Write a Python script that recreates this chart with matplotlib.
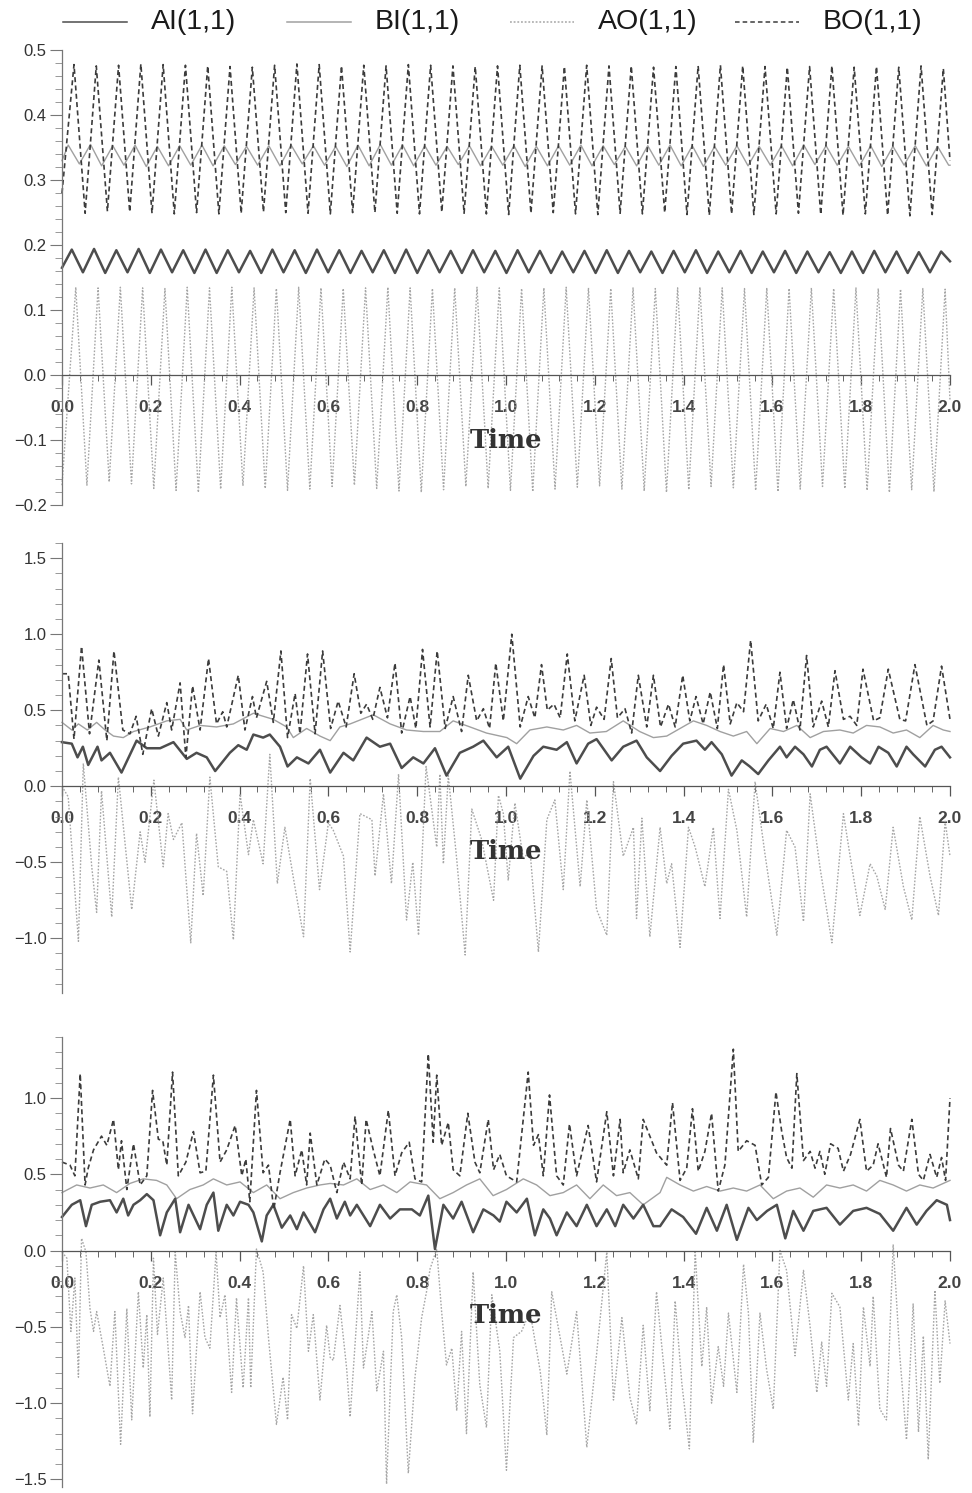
import numpy as np
import matplotlib
matplotlib.use("Agg")
import matplotlib.pyplot as plt
from matplotlib.ticker import MultipleLocator
from matplotlib.lines import Line2D

plt.rcParams['font.family'] = ['Liberation Sans', 'DejaVu Sans']

# ---------------- panel 1: regular oscillation, peak / trough values ----------------
p1_ai_peaks = [0.193, 0.194, 0.192, 0.194, 0.193, 0.192, 0.193, 0.192, 0.191, 0.193,
               0.192, 0.193, 0.192, 0.191, 0.192, 0.193, 0.192, 0.191, 0.192, 0.191,
               0.192, 0.191, 0.190, 0.191, 0.192, 0.191, 0.190, 0.191, 0.192, 0.190,
               0.191, 0.190, 0.191, 0.190, 0.189, 0.190, 0.191, 0.190, 0.189, 0.190]
p1_ai_troughs = [0.158, 0.157, 0.158, 0.157, 0.158, 0.157, 0.157, 0.158, 0.157, 0.158,
                 0.157, 0.158, 0.157, 0.158, 0.157, 0.157, 0.158, 0.157, 0.158, 0.157,
                 0.158, 0.157, 0.158, 0.157, 0.157, 0.158, 0.157, 0.158, 0.157, 0.158,
                 0.157, 0.158, 0.157, 0.158, 0.157, 0.157, 0.158, 0.157, 0.158]
p1_bi_peaks = [0.354, 0.355, 0.353, 0.354, 0.352, 0.353, 0.354, 0.353, 0.352, 0.353,
               0.354, 0.353, 0.352, 0.354, 0.355, 0.354, 0.353, 0.352, 0.353, 0.352,
               0.353, 0.352, 0.353, 0.354, 0.353, 0.352, 0.353, 0.354, 0.353, 0.352,
               0.353, 0.352, 0.353, 0.354, 0.353, 0.352, 0.353, 0.352, 0.353, 0.352]
p1_bi_troughs = [0.325, 0.322, 0.323, 0.321, 0.322, 0.323, 0.322, 0.324, 0.323, 0.322,
                 0.325, 0.323, 0.321, 0.322, 0.323, 0.322, 0.323, 0.324, 0.322, 0.323,
                 0.321, 0.322, 0.323, 0.322, 0.324, 0.322, 0.323, 0.322, 0.321, 0.323,
                 0.322, 0.323, 0.322, 0.324, 0.323, 0.322, 0.321, 0.323, 0.322, 0.323]
p1_ao_peaks = [0.135, 0.134, 0.135, 0.134, 0.133, 0.135, 0.134, 0.135, 0.134, 0.133,
               0.135, 0.134, 0.133, 0.134, 0.135, 0.134, 0.133, 0.134, 0.135, 0.134,
               0.133, 0.134, 0.135, 0.134, 0.133, 0.134, 0.133, 0.134, 0.135, 0.134,
               0.133, 0.134, 0.133, 0.134, 0.133, 0.134, 0.133, 0.132, 0.133, 0.132]
p1_ao_troughs = [-0.170, -0.165, -0.168, -0.175, -0.178, -0.181, -0.176, -0.171, -0.175, -0.178,
                 -0.176, -0.172, -0.170, -0.175, -0.179, -0.181, -0.177, -0.172, -0.175, -0.178,
                 -0.180, -0.176, -0.173, -0.171, -0.176, -0.179, -0.181, -0.177, -0.172, -0.174,
                 -0.178, -0.180, -0.176, -0.172, -0.175, -0.178, -0.181, -0.177, -0.180]
p1_bo_peaks = [0.478, 0.476, 0.477, 0.479, 0.478, 0.477, 0.476, 0.475, 0.474, 0.477,
               0.479, 0.478, 0.476, 0.477, 0.476, 0.478, 0.477, 0.476, 0.475, 0.476,
               0.477, 0.476, 0.475, 0.477, 0.476, 0.476, 0.474, 0.475, 0.476, 0.477,
               0.476, 0.475, 0.474, 0.475, 0.476, 0.474, 0.475, 0.474, 0.476, 0.472]
p1_bo_troughs = [0.249, 0.252, 0.251, 0.249, 0.248, 0.250, 0.248, 0.249, 0.251, 0.250,
                 0.249, 0.248, 0.250, 0.250, 0.249, 0.248, 0.251, 0.249, 0.248, 0.247,
                 0.249, 0.250, 0.248, 0.247, 0.249, 0.248, 0.250, 0.247, 0.246, 0.248,
                 0.247, 0.248, 0.249, 0.247, 0.246, 0.248, 0.246, 0.245, 0.247]
# time of first peak / last extremum, and values at the two ends of the record
p1_ai_span, p1_ai_ends = (0.022, 1.980), (0.165, 0.175)
p1_bi_span, p1_bi_ends = (0.014, 1.997), (0.330, 0.323)
p1_ao_span, p1_ao_ends = (0.031, 1.989), (-0.170, -0.040)
p1_bo_span, p1_bo_ends = (0.027, 1.985), (0.280, 0.330)

# ---------------- panel 2: (time, value) readings ----------------
p2_ai = [(0.0, 0.29), (0.022, 0.28), (0.035, 0.19), (0.047, 0.26), (0.059, 0.14), (0.080, 0.26),
         (0.089, 0.17), (0.108, 0.22), (0.134, 0.09), (0.168, 0.30), (0.191, 0.25), (0.221, 0.25),
         (0.251, 0.29), (0.281, 0.18), (0.303, 0.22), (0.326, 0.19), (0.345, 0.10), (0.378, 0.22),
         (0.397, 0.27), (0.416, 0.24), (0.431, 0.34), (0.453, 0.32), (0.468, 0.34), (0.491, 0.26),
         (0.508, 0.13), (0.529, 0.19), (0.555, 0.15), (0.581, 0.24), (0.604, 0.09), (0.634, 0.22),
         (0.656, 0.17), (0.686, 0.32), (0.716, 0.26), (0.739, 0.28), (0.765, 0.12), (0.791, 0.19),
         (0.814, 0.15), (0.840, 0.25), (0.866, 0.07), (0.896, 0.22), (0.926, 0.26), (0.949, 0.30),
         (0.979, 0.19), (1.005, 0.26), (1.032, 0.05), (1.062, 0.20), (1.084, 0.26), (1.114, 0.24),
         (1.137, 0.29), (1.159, 0.15), (1.185, 0.28), (1.204, 0.31), (1.238, 0.17), (1.264, 0.26),
         (1.294, 0.30), (1.317, 0.19), (1.347, 0.10), (1.373, 0.20), (1.399, 0.28), (1.429, 0.30),
         (1.448, 0.24), (1.463, 0.29), (1.486, 0.21), (1.508, 0.07), (1.531, 0.17), (1.549, 0.13),
         (1.568, 0.08), (1.591, 0.17), (1.617, 0.26), (1.632, 0.19), (1.651, 0.26), (1.670, 0.21),
         (1.689, 0.13), (1.707, 0.24), (1.722, 0.26), (1.752, 0.15), (1.775, 0.26), (1.801, 0.19),
         (1.820, 0.15), (1.839, 0.26), (1.861, 0.22), (1.880, 0.13), (1.902, 0.26), (1.917, 0.21),
         (1.944, 0.13), (1.966, 0.24), (1.981, 0.26), (2.0, 0.19)]
p2_bi = [(0.0, 0.42), (0.022, 0.37), (0.037, 0.41), (0.057, 0.37), (0.078, 0.42), (0.097, 0.37),
         (0.116, 0.33), (0.138, 0.32), (0.161, 0.36), (0.198, 0.39), (0.236, 0.43), (0.266, 0.44),
         (0.281, 0.37), (0.311, 0.40), (0.348, 0.39), (0.386, 0.41), (0.431, 0.48), (0.476, 0.44),
         (0.506, 0.39), (0.521, 0.32), (0.551, 0.38), (0.581, 0.33), (0.604, 0.30), (0.626, 0.39),
         (0.649, 0.41), (0.701, 0.47), (0.739, 0.41), (0.776, 0.37), (0.814, 0.36), (0.851, 0.36),
         (0.881, 0.43), (0.919, 0.39), (0.956, 0.35), (1.002, 0.32), (1.024, 0.28), (1.054, 0.37),
         (1.092, 0.39), (1.129, 0.37), (1.159, 0.40), (1.189, 0.35), (1.226, 0.36), (1.264, 0.43),
         (1.301, 0.36), (1.332, 0.32), (1.362, 0.33), (1.392, 0.38), (1.422, 0.43), (1.452, 0.40),
         (1.482, 0.36), (1.512, 0.33), (1.542, 0.36), (1.565, 0.28), (1.595, 0.38), (1.625, 0.36),
         (1.655, 0.40), (1.685, 0.32), (1.715, 0.36), (1.752, 0.37), (1.782, 0.35), (1.812, 0.40),
         (1.842, 0.39), (1.872, 0.35), (1.902, 0.37), (1.932, 0.32), (1.962, 0.40), (1.985, 0.37),
         (2.0, 0.36)]
p2_ao = [(0.0, 0.0), (0.014, -0.07), (0.037, -1.02), (0.048, 0.15), (0.067, -0.53), (0.078, -0.83),
         (0.089, -0.03), (0.112, -0.86), (0.127, 0.06), (0.157, -0.81), (0.176, -0.30), (0.187, -0.50),
         (0.207, 0.04), (0.228, -0.53), (0.239, -0.18), (0.251, -0.35), (0.270, -0.24), (0.290, -1.03),
         (0.303, -0.31), (0.318, -0.72), (0.333, 0.06), (0.352, -0.53), (0.371, -0.56), (0.386, -1.01),
         (0.401, -0.05), (0.420, -0.45), (0.431, -0.22), (0.453, -0.51), (0.468, 0.21), (0.485, -0.64),
         (0.502, -0.27), (0.521, -0.60), (0.544, -0.99), (0.559, 0.05), (0.580, -0.68), (0.600, -0.24),
         (0.611, -0.29), (0.634, -0.46), (0.649, -1.09), (0.671, -0.18), (0.698, -0.22), (0.705, -0.59),
         (0.724, -0.05), (0.742, -0.64), (0.758, 0.08), (0.776, -0.88), (0.790, -0.50), (0.803, -0.98),
         (0.820, 0.13), (0.844, -0.40), (0.851, 0.08), (0.859, -0.51), (0.870, 0.07), (0.889, -0.48),
         (0.908, -1.11), (0.923, -0.15), (0.945, -0.35), (0.972, -0.75), (0.983, -0.06), (0.994, -0.18),
         (1.005, -0.62), (1.020, -0.11), (1.039, -0.48), (1.054, -0.42), (1.073, -1.09), (1.092, -0.22),
         (1.110, -0.09), (1.129, -0.68), (1.144, 0.10), (1.167, -0.66), (1.182, -0.09), (1.204, -0.81),
         (1.227, -0.98), (1.242, 0.03), (1.264, -0.46), (1.287, -0.27), (1.294, -0.87), (1.306, -0.21),
         (1.324, -0.99), (1.347, -0.27), (1.362, -0.64), (1.373, -0.51), (1.392, -1.06), (1.411, -0.27),
         (1.426, -0.40), (1.448, -0.66), (1.467, -0.27), (1.482, -0.87), (1.501, -0.02), (1.520, -0.29),
         (1.542, -0.86), (1.561, 0.03), (1.583, -0.44), (1.610, -0.98), (1.632, -0.29), (1.651, -0.40),
         (1.670, -0.89), (1.685, -0.05), (1.707, -0.53), (1.734, -1.03), (1.760, -0.18), (1.775, -0.46),
         (1.797, -0.85), (1.820, -0.51), (1.835, -0.59), (1.854, -0.81), (1.872, -0.27), (1.895, -0.66),
         (1.914, -0.88), (1.932, -0.20), (1.955, -0.59), (1.974, -0.85), (1.989, -0.23), (2.0, -0.46)]
p2_bo = [(0.0, 0.74), (0.014, 0.74), (0.027, 0.31), (0.044, 0.92), (0.062, 0.345), (0.083, 0.83),
         (0.101, 0.30), (0.117, 0.89), (0.137, 0.37), (0.153, 0.345), (0.167, 0.46), (0.182, 0.21),
         (0.202, 0.51), (0.217, 0.33), (0.236, 0.55), (0.247, 0.37), (0.266, 0.68), (0.279, 0.19),
         (0.294, 0.66), (0.311, 0.37), (0.330, 0.84), (0.348, 0.41), (0.362, 0.49), (0.371, 0.39),
         (0.397, 0.73), (0.412, 0.37), (0.429, 0.59), (0.438, 0.45), (0.461, 0.69), (0.476, 0.42),
         (0.493, 0.89), (0.508, 0.32), (0.525, 0.61), (0.536, 0.345), (0.553, 0.87), (0.570, 0.345),
         (0.587, 0.89), (0.605, 0.38), (0.622, 0.56), (0.640, 0.39), (0.658, 0.74), (0.673, 0.48),
         (0.686, 0.54), (0.700, 0.44), (0.716, 0.65), (0.733, 0.45), (0.750, 0.81), (0.765, 0.35),
         (0.784, 0.59), (0.797, 0.38), (0.812, 0.90), (0.829, 0.39), (0.845, 0.89), (0.863, 0.38),
         (0.881, 0.59), (0.900, 0.36), (0.915, 0.73), (0.934, 0.43), (0.949, 0.51), (0.963, 0.38),
         (0.977, 0.81), (0.994, 0.43), (1.013, 1.00), (1.032, 0.39), (1.050, 0.59), (1.065, 0.45),
         (1.080, 0.80), (1.093, 0.50), (1.108, 0.54), (1.122, 0.45), (1.138, 0.87), (1.155, 0.43),
         (1.176, 0.73), (1.191, 0.40), (1.204, 0.52), (1.221, 0.44), (1.237, 0.84), (1.251, 0.45),
         (1.268, 0.51), (1.283, 0.35), (1.298, 0.73), (1.317, 0.39), (1.332, 0.73), (1.348, 0.39),
         (1.366, 0.54), (1.381, 0.39), (1.398, 0.73), (1.414, 0.43), (1.428, 0.59), (1.444, 0.41),
         (1.460, 0.62), (1.476, 0.38), (1.490, 0.80), (1.505, 0.41), (1.520, 0.55), (1.535, 0.49),
         (1.551, 0.96), (1.568, 0.43), (1.586, 0.54), (1.602, 0.38), (1.617, 0.75), (1.632, 0.38),
         (1.647, 0.57), (1.662, 0.37), (1.677, 0.86), (1.692, 0.39), (1.711, 0.56), (1.726, 0.39),
         (1.741, 0.76), (1.760, 0.44), (1.775, 0.46), (1.790, 0.40), (1.804, 0.77), (1.828, 0.43),
         (1.842, 0.45), (1.861, 0.77), (1.887, 0.44), (1.900, 0.43), (1.921, 0.80), (1.948, 0.40),
         (1.962, 0.43), (1.981, 0.79), (2.0, 0.44)]

# ---------------- panel 3: (time, value) readings ----------------
p3_ai = [(0.0, 0.22), (0.022, 0.30), (0.041, 0.33), (0.054, 0.16), (0.067, 0.30), (0.086, 0.32),
         (0.108, 0.33), (0.123, 0.25), (0.138, 0.34), (0.149, 0.23), (0.161, 0.30), (0.176, 0.33),
         (0.191, 0.37), (0.206, 0.33), (0.221, 0.10), (0.236, 0.25), (0.255, 0.34), (0.266, 0.12),
         (0.285, 0.30), (0.311, 0.14), (0.326, 0.30), (0.341, 0.38), (0.352, 0.13), (0.371, 0.30),
         (0.386, 0.23), (0.401, 0.32), (0.420, 0.30), (0.431, 0.25), (0.450, 0.06), (0.461, 0.23),
         (0.476, 0.30), (0.495, 0.15), (0.514, 0.23), (0.529, 0.14), (0.544, 0.25), (0.570, 0.12),
         (0.589, 0.27), (0.604, 0.34), (0.619, 0.21), (0.637, 0.32), (0.649, 0.23), (0.664, 0.30),
         (0.679, 0.23), (0.694, 0.16), (0.716, 0.30), (0.739, 0.21), (0.761, 0.27), (0.788, 0.27),
         (0.806, 0.23), (0.825, 0.36), (0.840, 0.01), (0.859, 0.30), (0.881, 0.21), (0.900, 0.32),
         (0.926, 0.12), (0.949, 0.27), (0.972, 0.23), (0.986, 0.19), (1.001, 0.32), (1.024, 0.25),
         (1.047, 0.34), (1.065, 0.10), (1.084, 0.27), (1.099, 0.21), (1.114, 0.10), (1.137, 0.25),
         (1.159, 0.16), (1.182, 0.30), (1.204, 0.16), (1.227, 0.27), (1.246, 0.16), (1.264, 0.30),
         (1.287, 0.21), (1.309, 0.30), (1.332, 0.16), (1.347, 0.16), (1.373, 0.27), (1.399, 0.22),
         (1.428, 0.11), (1.452, 0.28), (1.475, 0.13), (1.497, 0.30), (1.520, 0.07), (1.546, 0.28),
         (1.565, 0.20), (1.588, 0.26), (1.610, 0.30), (1.629, 0.08), (1.647, 0.26), (1.670, 0.13),
         (1.692, 0.26), (1.722, 0.28), (1.752, 0.17), (1.782, 0.26), (1.812, 0.28), (1.842, 0.24),
         (1.872, 0.13), (1.902, 0.28), (1.925, 0.17), (1.947, 0.26), (1.970, 0.33), (1.993, 0.30),
         (2.0, 0.20)]
p3_bi = [(0.0, 0.38), (0.033, 0.43), (0.063, 0.41), (0.093, 0.43), (0.123, 0.38), (0.153, 0.44),
         (0.183, 0.47), (0.213, 0.46), (0.236, 0.43), (0.258, 0.34), (0.288, 0.40), (0.318, 0.43),
         (0.341, 0.47), (0.371, 0.43), (0.401, 0.45), (0.431, 0.38), (0.461, 0.43), (0.491, 0.34),
         (0.521, 0.38), (0.551, 0.41), (0.581, 0.43), (0.604, 0.44), (0.634, 0.43), (0.664, 0.47),
         (0.694, 0.40), (0.724, 0.43), (0.754, 0.38), (0.784, 0.45), (0.821, 0.43), (0.851, 0.34),
         (0.881, 0.38), (0.911, 0.43), (0.941, 0.47), (0.971, 0.36), (1.001, 0.40), (1.039, 0.47),
         (1.069, 0.43), (1.099, 0.36), (1.129, 0.38), (1.159, 0.43), (1.189, 0.34), (1.219, 0.43),
         (1.249, 0.36), (1.279, 0.38), (1.309, 0.30), (1.347, 0.38), (1.362, 0.48), (1.392, 0.43),
         (1.422, 0.39), (1.452, 0.42), (1.482, 0.39), (1.512, 0.41), (1.542, 0.39), (1.572, 0.43),
         (1.602, 0.34), (1.632, 0.39), (1.662, 0.41), (1.692, 0.35), (1.722, 0.43), (1.752, 0.41),
         (1.782, 0.43), (1.812, 0.39), (1.842, 0.46), (1.872, 0.43), (1.902, 0.39), (1.932, 0.43),
         (1.962, 0.41), (2.0, 0.46)]
p3_ao = [(0.0, -0.01), (0.011, -0.05), (0.020, -0.53), (0.029, -0.18), (0.037, -0.83), (0.044, 0.08),
         (0.054, -0.01), (0.063, -0.38), (0.071, -0.53), (0.078, -0.40), (0.093, -0.64), (0.108, -0.89),
         (0.119, -0.40), (0.132, -1.27), (0.146, -0.38), (0.157, -1.11), (0.172, -0.27), (0.183, -0.77),
         (0.191, -0.42), (0.198, -1.09), (0.206, -0.05), (0.215, -0.55), (0.228, -0.18), (0.247, -0.98),
         (0.255, -0.01), (0.266, -0.40), (0.277, -0.57), (0.285, -0.36), (0.294, -1.07), (0.311, -0.27),
         (0.322, -0.57), (0.333, -0.64), (0.347, -0.01), (0.356, -0.44), (0.367, -0.29), (0.382, -0.93),
         (0.393, -0.31), (0.408, -0.90), (0.420, -0.31), (0.425, -0.90), (0.438, 0.01), (0.453, -0.14),
         (0.465, -0.57), (0.483, -1.14), (0.498, -0.83), (0.508, -1.11), (0.517, -0.42), (0.529, -0.51),
         (0.544, -0.10), (0.555, -0.66), (0.566, -0.42), (0.581, -0.98), (0.596, -0.49), (0.604, -0.70),
         (0.611, -0.72), (0.626, -0.36), (0.641, -0.77), (0.649, -1.09), (0.671, -0.14), (0.679, -0.77),
         (0.698, -0.40), (0.709, -0.92), (0.724, -0.66), (0.731, -1.53), (0.746, -0.40), (0.754, -0.29),
         (0.765, -0.57), (0.780, -1.46), (0.795, -0.83), (0.810, -0.44), (0.821, -0.27), (0.829, -0.12),
         (0.844, 0.01), (0.855, -0.40), (0.866, -0.75), (0.878, -0.64), (0.889, -1.05), (0.900, -0.53),
         (0.911, -1.20), (0.926, -0.14), (0.941, -0.88), (0.956, -1.16), (0.968, -0.29), (0.986, -0.66),
         (1.001, -1.44), (1.017, -0.57), (1.035, -0.53), (1.054, -0.40), (1.077, -0.79), (1.092, -1.21),
         (1.103, -0.27), (1.122, -0.57), (1.137, -0.81), (1.159, -0.40), (1.182, -1.29), (1.204, -0.68),
         (1.227, -0.01), (1.242, -0.98), (1.261, -0.44), (1.279, -0.96), (1.294, -1.14), (1.309, -0.49),
         (1.324, -1.05), (1.339, -0.27), (1.369, -1.17), (1.381, -0.33), (1.396, -0.87), (1.413, -1.30),
         (1.426, 0.0), (1.441, -0.76), (1.452, -0.37), (1.463, -1.00), (1.478, -0.63), (1.490, -0.89),
         (1.501, -0.41), (1.520, -0.93), (1.535, -0.09), (1.546, -0.41), (1.557, -1.26), (1.572, -0.41),
         (1.587, -0.78), (1.602, -1.04), (1.617, 0.0), (1.632, -0.13), (1.651, -0.69), (1.670, -0.13),
         (1.685, -0.50), (1.700, -0.93), (1.711, -0.60), (1.722, -0.89), (1.734, -0.28), (1.752, -0.37),
         (1.771, -0.98), (1.782, -0.61), (1.794, -1.15), (1.805, -0.37), (1.820, -0.76), (1.827, -0.30),
         (1.842, -1.04), (1.857, -1.11), (1.872, 0.04), (1.887, -0.69), (1.902, -1.24), (1.917, -0.35),
         (1.929, -1.19), (1.940, -0.56), (1.951, -1.37), (1.966, -0.26), (1.977, -0.87), (1.989, -0.33),
         (2.0, -0.61)]
p3_bo = [(0.0, 0.58), (0.018, 0.56), (0.029, 0.49), (0.041, 1.16), (0.052, 0.43), (0.059, 0.54),
         (0.071, 0.66), (0.089, 0.75), (0.101, 0.69), (0.116, 0.86), (0.127, 0.53), (0.134, 0.72),
         (0.146, 0.40), (0.161, 0.70), (0.176, 0.43), (0.191, 0.49), (0.204, 1.05), (0.217, 0.73),
         (0.227, 0.72), (0.236, 0.56), (0.249, 1.17), (0.262, 0.49), (0.279, 0.58), (0.296, 0.78),
         (0.311, 0.51), (0.324, 0.52), (0.341, 1.15), (0.356, 0.58), (0.371, 0.66), (0.390, 0.82),
         (0.405, 0.49), (0.414, 0.60), (0.423, 0.32), (0.438, 1.05), (0.453, 0.51), (0.465, 0.56),
         (0.477, 0.27), (0.491, 0.51), (0.514, 0.86), (0.525, 0.49), (0.540, 0.66), (0.551, 0.43),
         (0.559, 0.77), (0.574, 0.43), (0.592, 0.60), (0.604, 0.56), (0.619, 0.38), (0.634, 0.58),
         (0.649, 0.47), (0.660, 0.88), (0.675, 0.43), (0.685, 0.86), (0.701, 0.66), (0.716, 0.49),
         (0.735, 0.92), (0.750, 0.49), (0.765, 0.64), (0.782, 0.71), (0.795, 0.47), (0.810, 0.45),
         (0.825, 1.29), (0.836, 0.71), (0.844, 1.15), (0.855, 0.69), (0.870, 0.84), (0.881, 0.53),
         (0.896, 0.49), (0.914, 0.90), (0.930, 0.58), (0.941, 0.51), (0.960, 0.86), (0.972, 0.53),
         (0.986, 0.63), (1.001, 0.49), (1.024, 0.45), (1.050, 1.17), (1.062, 0.69), (1.073, 0.76),
         (1.084, 0.49), (1.098, 1.02), (1.114, 0.49), (1.129, 0.43), (1.143, 0.83), (1.159, 0.49),
         (1.185, 0.82), (1.204, 0.45), (1.227, 0.91), (1.242, 0.49), (1.257, 0.86), (1.264, 0.51),
         (1.279, 0.66), (1.298, 0.47), (1.309, 0.86), (1.324, 0.75), (1.339, 0.64), (1.362, 0.56),
         (1.375, 0.97), (1.392, 0.46), (1.407, 0.54), (1.420, 0.93), (1.433, 0.52), (1.448, 0.65),
         (1.463, 0.90), (1.478, 0.39), (1.493, 0.56), (1.512, 1.32), (1.523, 0.65), (1.542, 0.72),
         (1.561, 0.69), (1.576, 0.43), (1.591, 0.48), (1.608, 1.04), (1.621, 0.78), (1.632, 0.61),
         (1.644, 0.54), (1.655, 1.16), (1.670, 0.59), (1.685, 0.65), (1.696, 0.54), (1.707, 0.65),
         (1.718, 0.50), (1.731, 0.70), (1.748, 0.67), (1.760, 0.52), (1.776, 0.63), (1.797, 0.86),
         (1.812, 0.52), (1.827, 0.56), (1.838, 0.70), (1.857, 0.48), (1.866, 0.80), (1.884, 0.56),
         (1.895, 0.52), (1.914, 0.86), (1.929, 0.50), (1.940, 0.46), (1.955, 0.63), (1.970, 0.48),
         (1.981, 0.61), (1.990, 0.46), (2.0, 1.00)]

series_names = ['AI(1,1)', 'BI(1,1)', 'AO(1,1)', 'BO(1,1)']

# ---------------- styles ----------------
styles = {
    'AI(1,1)': dict(color='#4d4d4d', lw=1.8, ls='-'),
    'BI(1,1)': dict(color='#a0a0a0', lw=1.0, ls='-'),
    'AO(1,1)': dict(color='#a6a6a6', lw=1.0, ls=(0, (1.2, 1.2))),
    'BO(1,1)': dict(color='#3c3c3c', lw=1.2, ls=(0, (3, 2))),
}
draw_order = ['AO(1,1)', 'BI(1,1)', 'AI(1,1)', 'BO(1,1)']


def osc_series(peaks, troughs, span, ends):
    vals = np.empty(len(peaks) + len(troughs))
    vals[0::2] = peaks
    vals[1::2] = troughs
    t = np.linspace(span[0], span[1], len(vals))
    t = np.concatenate([[0.0], t, [2.0]])
    v = np.concatenate([[ends[0]], vals, [ends[1]]])
    return t, v


def pairs(p):
    a = np.array(p)
    return a[:, 0], a[:, 1]


def style_axes(ax, ylim, major, minor):
    ax.set_xlim(0, 2.0)
    ax.set_ylim(*ylim)
    for s in ['top', 'right']:
        ax.spines[s].set_visible(False)
    ax.spines['bottom'].set_position(('data', 0))
    ax.spines['bottom'].set_color('#555555')
    ax.spines['bottom'].set_linewidth(0.9)
    ax.spines['left'].set_color('#777777')
    ax.spines['left'].set_linewidth(0.9)
    ax.xaxis.set_major_locator(MultipleLocator(0.2))
    ax.xaxis.set_minor_locator(MultipleLocator(0.04))
    ax.yaxis.set_major_locator(MultipleLocator(major))
    ax.yaxis.set_minor_locator(MultipleLocator(minor))
    ax.tick_params(axis='x', which='major', direction='out', length=7, width=0.9,
                   pad=11, labelsize=12.5, color='#555555', labelcolor='#444444')
    ax.tick_params(axis='x', which='minor', direction='out', length=4, width=0.7, color='#666666')
    ax.tick_params(axis='y', which='major', direction='out', length=9, width=0.8,
                   pad=2, labelsize=12, color='#777777', labelcolor='#333333')
    ax.tick_params(axis='y', which='minor', direction='out', length=5, width=0.6, color='#888888')
    for lab in ax.get_xticklabels():
        lab.set_fontweight('bold')
    ax.annotate('Time', xy=(1.0, 0), xycoords='data', xytext=(0, -47),
                textcoords='offset points', ha='center', va='center',
                fontsize=18.5, fontweight='bold', color='#333333', family='DejaVu Serif')


fig = plt.figure(figsize=(9.72, 14.93), dpi=100)
W = 972.0
H = 1493.0
left, width = 62 / W, 888 / W

ax1 = fig.add_axes([left, 1 - 505 / H, width, 455 / H])
ax2 = fig.add_axes([left, 1 - 993 / H, width, 450 / H])
ax3 = fig.add_axes([left, 1 - 1487 / H, width, 450 / H])

p1 = {
    'AI(1,1)': osc_series(p1_ai_peaks, p1_ai_troughs, p1_ai_span, p1_ai_ends),
    'BI(1,1)': osc_series(p1_bi_peaks, p1_bi_troughs, p1_bi_span, p1_bi_ends),
    'AO(1,1)': osc_series(p1_ao_peaks, p1_ao_troughs, p1_ao_span, p1_ao_ends),
    'BO(1,1)': osc_series(p1_bo_peaks, p1_bo_troughs, p1_bo_span, p1_bo_ends),
}
p2 = {'AI(1,1)': pairs(p2_ai), 'BI(1,1)': pairs(p2_bi), 'AO(1,1)': pairs(p2_ao), 'BO(1,1)': pairs(p2_bo)}
p3 = {'AI(1,1)': pairs(p3_ai), 'BI(1,1)': pairs(p3_bi), 'AO(1,1)': pairs(p3_ao), 'BO(1,1)': pairs(p3_bo)}

for ax, data in [(ax1, p1), (ax2, p2), (ax3, p3)]:
    for name in draw_order:
        t, v = data[name]
        ax.plot(t, v, label=name, clip_on=False, **styles[name])

style_axes(ax1, (-0.2005, 0.5005), 0.1, 0.02)
style_axes(ax2, (-1.36, 1.6), 0.5, 0.1)
style_axes(ax3, (-1.55, 1.4), 0.5, 0.1)

# legend row across the top (line sample, then label)
leg_y = 1 - 22 / H
leg_x = [63, 287, 510, 735]
for name, x0 in zip(series_names, leg_x):
    st = dict(styles[name])
    st['lw'] = 1.1
    fig.add_artist(Line2D([x0 / W, (x0 + 64) / W], [leg_y, leg_y],
                          transform=fig.transFigure, **st))
    fig.text((x0 + 88) / W, leg_y, name, ha='left', va='center',
             fontsize=20.5, color='#1a1a1a')

fig.savefig('out.png', dpi=100, facecolor='white')
